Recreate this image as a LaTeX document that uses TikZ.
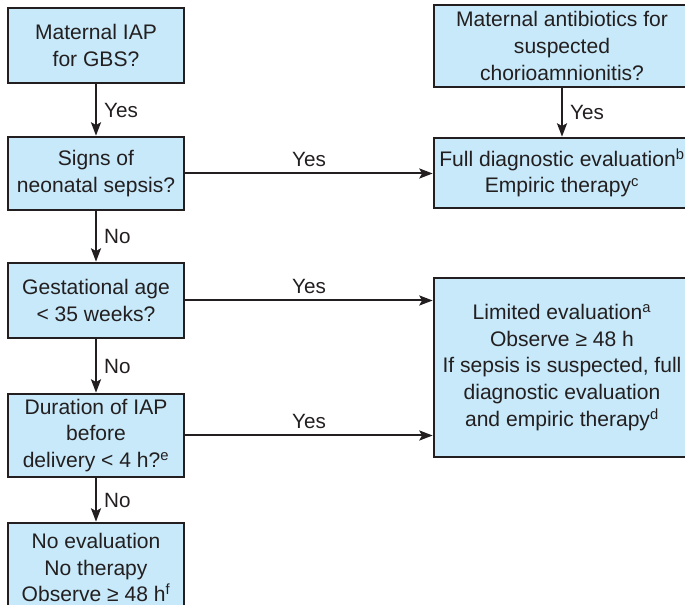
\documentclass[tikz,border=0pt]{standalone}
\usepackage{fontspec}
\setmainfont{Liberation Sans}
\usetikzlibrary{arrows.meta}

\definecolor{boxblue}{RGB}{199,233,249}
\definecolor{inkline}{RGB}{35,31,32}

\begin{document}
\begin{tikzpicture}[x=0.75pt,y=-0.75pt,>={Stealth[length=10pt,width=7.5pt,inset=2pt]},
  box/.style={draw=inkline,line width=2pt,fill=boxblue,align=center,inner sep=0pt,
    text=inkline,font=\fontsize{15.8}{20}\selectfont},
  leftbox/.style={box,minimum width=176*0.75pt},
  rightbox/.style={box,minimum width=256*0.75pt},
  flow/.style={->,line width=1.5pt,draw=inkline},
  lbl/.style={text=inkline,font=\fontsize{15.5}{18}\selectfont}]
  \useasboundingbox (0,0) rectangle (685,605);
  \begin{scope}
  \clip (0,0) rectangle (685,605);

  % left column
  \node[leftbox,minimum height=75*0.75pt] (iap) at (96,45.5) {Maternal IAP\\for GBS?};
  \node[leftbox,minimum height=73*0.75pt] (signs) at (96,173.5) {Signs of\\neonatal sepsis?};
  \node[leftbox,minimum height=75*0.75pt] (gest) at (96,300.5) {Gestational age\\< 35 weeks?};
  \node[leftbox,minimum height=83*0.75pt] (dur) at (96,435.5)
    {Duration of IAP\\before\\delivery < 4 h?\textsuperscript{e}};
  \node[leftbox,minimum height=89*0.75pt] (noeval) at (96,567.5)
    {No evaluation\\No therapy\\Observe ≥ 48 h\textsuperscript{f}};

  % right column
  \node[rightbox,minimum height=82*0.75pt] (chorio) at (562,46)
    {Maternal antibiotics for\\suspected\\chorioamnionitis?};
  \node[rightbox,minimum height=70*0.75pt] (full) at (562,173)
    {Full diagnostic evaluation\textsuperscript{b}\\Empiric therapy\textsuperscript{c}};
  \node[rightbox,minimum height=179*0.75pt] (limited) at (562,367.5)
    {Limited evaluation\textsuperscript{a}\\Observe ≥ 48 h\\If sepsis is suspected, full\\
     diagnostic evaluation\\and empiric therapy\textsuperscript{d}};

  % connectors
  \draw[flow] (iap) -- node[lbl,right=2pt] {Yes} (signs);
  \draw[flow] (signs) -- node[lbl,right=2pt] {No} (gest);
  \draw[flow] (gest) -- node[lbl,right=2pt] {No} (dur);
  \draw[flow] (dur) -- node[lbl,right=2pt] {No} (noeval);
  \draw[flow] (chorio) -- node[lbl,right=2pt] {Yes} (full);
  \draw[flow] (signs.east) -- node[lbl,above=1pt] {Yes} (signs.east -| full.west);
  \draw[flow] (gest.east) -- node[lbl,above=1pt] {Yes} (gest.east -| limited.west);
  \draw[flow] (dur.east) -- node[lbl,above=1pt] {Yes} (dur.east -| limited.west);
  \end{scope}
\end{tikzpicture}
\end{document}
